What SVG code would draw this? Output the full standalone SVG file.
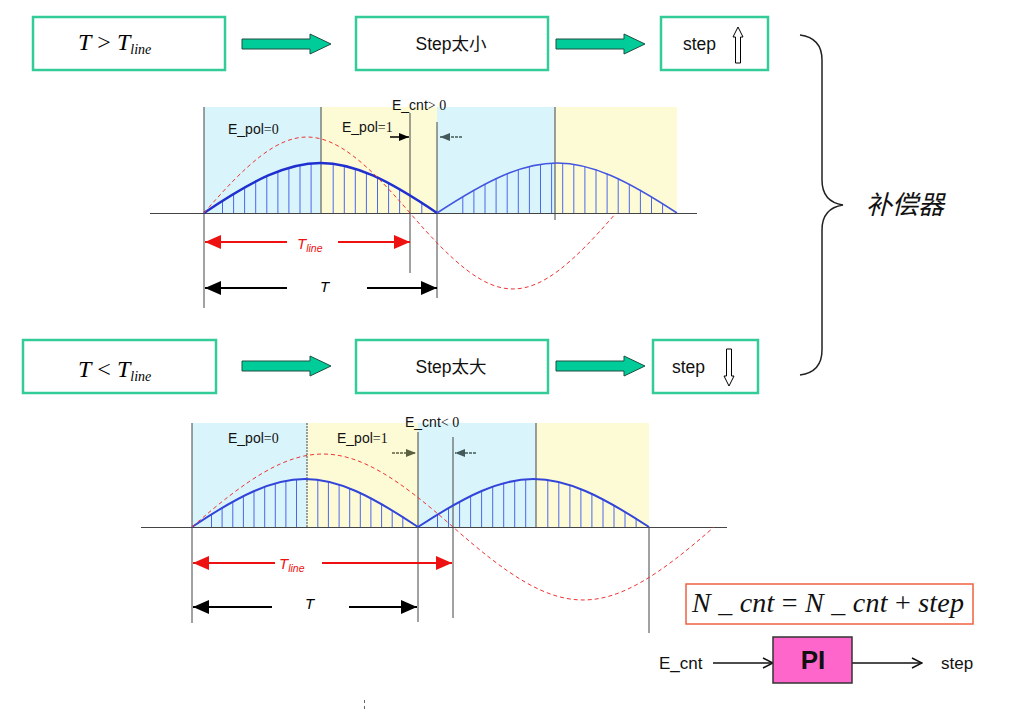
<svg xmlns="http://www.w3.org/2000/svg" width="1023" height="712" viewBox="0 0 1023 712">
<style>
.box{fill:#fff;stroke:#33cc99;stroke-width:2.5}
.garrow{fill:#00cc99;stroke:#1f4f40;stroke-width:1}
.sans{font-family:"Liberation Sans",Arial,sans-serif;fill:#111}
.serif{font-family:"Liberation Serif","Times New Roman",serif}
.mi{font-family:"Liberation Serif","Times New Roman",serif;font-style:italic}
.cyan{fill:#d9f5fb}
.yel{fill:#fdfbd6}
.vl{stroke:#444;stroke-width:1;fill:none}
.axis{stroke:#444;stroke-width:1}
.hatch{stroke:#4a66ee;stroke-width:1}
.sine{fill:none;stroke:#ee3333;stroke-width:1;stroke-dasharray:4 3}
.red{stroke:#ee1111;stroke-width:2}
.blk{stroke:#000;stroke-width:2}
.lbl{font-family:"Liberation Sans",Arial,sans-serif;font-style:italic;font-size:15px}
</style>
<defs>
<marker id="rh" viewBox="0 0 16 14" refX="16" refY="7" markerWidth="16" markerHeight="14" markerUnits="userSpaceOnUse" orient="auto-start-reverse"><path d="M0,0 L16,7 L0,14 Z" fill="#ee1111"/></marker>
<marker id="bh" viewBox="0 0 16 14" refX="16" refY="7" markerWidth="16" markerHeight="14" markerUnits="userSpaceOnUse" orient="auto-start-reverse"><path d="M0,0 L16,7 L0,14 Z" fill="#000"/></marker>
<marker id="sh" viewBox="0 0 10 8" refX="10" refY="4" markerWidth="10" markerHeight="8" markerUnits="userSpaceOnUse" orient="auto"><path d="M0,0 L10,4 L0,8 Z" fill="#000"/></marker>
<marker id="th" viewBox="0 0 10 8" refX="10" refY="4" markerWidth="10" markerHeight="8" markerUnits="userSpaceOnUse" orient="auto"><path d="M0,0 L10,4 L0,8 Z" fill="#445a5a"/></marker>
<marker id="oh" viewBox="0 0 10 8" refX="10" refY="4" markerWidth="10" markerHeight="8" markerUnits="userSpaceOnUse" orient="auto"><path d="M0,0 L10,4 L0,8 Z" fill="#5a6040"/></marker>
<marker id="ch" viewBox="0 0 12 12" refX="11" refY="6" markerWidth="12" markerHeight="12" markerUnits="userSpaceOnUse" orient="auto"><path d="M1,1 L11,6 L1,11" fill="none" stroke="#111" stroke-width="1.5"/></marker>
</defs>
<rect width="1023" height="712" fill="#fff"/>

<!-- Row 1 nodes -->
<g id="cond1">
<rect class="box" x="33" y="17" width="192" height="53"/>
<text x="78" y="50" font-size="24"><tspan class="mi">T</tspan><tspan class="serif"> &gt; </tspan><tspan class="mi">T</tspan><tspan class="mi" font-size="14" dy="4">line</tspan></text>
</g>
<g id="stepsmall">
<rect class="box" x="356" y="17" width="192" height="53"/>
<text class="sans" x="451" y="50" font-size="17.5" text-anchor="middle">Step<tspan font-family="'Noto Sans CJK SC',sans-serif">太小</tspan></text>
</g>
<g id="stepup">
<rect class="box" x="661" y="17" width="107" height="53"/>
<text class="sans" x="683" y="50" font-size="17.5">step</text>
<polygon points="738,27 743,37 740.5,37 740.5,63 735.5,63 735.5,37 733,37" fill="#fff" stroke="#000" stroke-width="1"/>
</g>

<!-- Row 2 nodes -->
<g id="cond2">
<rect class="box" x="23" y="340" width="193" height="53"/>
<text x="78" y="377" font-size="24"><tspan class="mi">T</tspan><tspan class="serif"> &lt; </tspan><tspan class="mi">T</tspan><tspan class="mi" font-size="14" dy="4">line</tspan></text>
</g>
<g id="stepbig">
<rect class="box" x="356" y="340" width="192" height="53"/>
<text class="sans" x="451" y="373" font-size="17.5" text-anchor="middle">Step<tspan font-family="'Noto Sans CJK SC',sans-serif">太大</tspan></text>
</g>
<g id="stepdown">
<rect class="box" x="653" y="340" width="105" height="53"/>
<text class="sans" x="672" y="373" font-size="17.5">step</text>
<polygon points="729,386 734,376 731.5,376 731.5,349 726.5,349 726.5,376 724,376" fill="#fff" stroke="#000" stroke-width="1"/>
</g>

<!-- Connectors -->
<g id="connectors">
<path class="garrow" d="M242,39 H310 V34 L331,44 L310,54 V49 H242 Z"/>
<path class="garrow" d="M556,39 H624 V34 L645,44 L624,54 V49 H556 Z"/>
<path class="garrow" d="M242,361 H310 V356 L331,366 L310,376 V371 H242 Z"/>
<path class="garrow" d="M556,361 H624 V356 L645,366 L624,376 V371 H556 Z"/>
<line x1="713" y1="663" x2="773" y2="663" stroke="#111" stroke-width="1.5" marker-end="url(#ch)"/>
<line x1="852" y1="663" x2="922" y2="663" stroke="#111" stroke-width="1.5" marker-end="url(#ch)"/>
</g>

<!-- Brace and label -->
<g id="compensator">
<path d="M800,35 C815,37 822,45 822,60 V180 C822,195 830,203 843,205 C830,207 822,215 822,230 V350 C822,365 815,373 800,375" fill="none" stroke="#222" stroke-width="1.5"/>
<text x="866" y="214" font-size="26" font-style="italic" font-family="'Noto Sans CJK SC','Noto Sans CJK JP',sans-serif" fill="#111">补偿器</text>
</g>

<!-- Waveform 1 -->
<g id="wave1">
<rect class="cyan" x="204" y="107" width="117" height="106"/>
<rect class="yel" x="321" y="107" width="116" height="106"/>
<rect class="cyan" x="437" y="107" width="118" height="106"/>
<rect class="yel" x="555" y="107" width="122" height="106"/>
<line class="axis" x1="150" y1="213.5" x2="697" y2="213.5"/>
<g class="hatch">
<line x1="222.5" y1="213" x2="222.5" y2="200.7"/><line x1="233.6" y1="213" x2="233.6" y2="193.6"/><line x1="244.6" y1="213" x2="244.6" y2="187"/><line x1="255.7" y1="213" x2="255.7" y2="180.9"/><line x1="266.8" y1="213" x2="266.8" y2="175.6"/><line x1="277.9" y1="213" x2="277.9" y2="171"/><line x1="288.9" y1="213" x2="288.9" y2="167.5"/><line x1="300" y1="213" x2="300" y2="164.9"/><line x1="311.1" y1="213" x2="311.1" y2="163.4"/><line x1="333.2" y1="213" x2="333.2" y2="163.7"/><line x1="344.3" y1="213" x2="344.3" y2="165.6"/><line x1="355.3" y1="213" x2="355.3" y2="168.4"/><line x1="366.4" y1="213" x2="366.4" y2="172.3"/><line x1="377.5" y1="213" x2="377.5" y2="177.1"/><line x1="388.6" y1="213" x2="388.6" y2="182.6"/><line x1="399.6" y1="213" x2="399.6" y2="188.8"/><line x1="421.8" y1="213" x2="421.8" y2="202.8"/>
<line x1="462.8" y1="213" x2="462.8" y2="196.4"/><line x1="473.9" y1="213" x2="473.9" y2="189.8"/><line x1="485" y1="213" x2="485" y2="183.6"/><line x1="496.1" y1="213" x2="496.1" y2="178.1"/><line x1="507.2" y1="213" x2="507.2" y2="173.3"/><line x1="518.3" y1="213" x2="518.3" y2="169.3"/><line x1="529.4" y1="213" x2="529.4" y2="166.2"/><line x1="540.5" y1="213" x2="540.5" y2="164.1"/><line x1="551.6" y1="213" x2="551.6" y2="163.1"/><line x1="562.7" y1="213" x2="562.7" y2="163.1"/><line x1="573.8" y1="213" x2="573.8" y2="164.2"/><line x1="584.9" y1="213" x2="584.9" y2="166.3"/><line x1="596" y1="213" x2="596" y2="169.4"/><line x1="607.1" y1="213" x2="607.1" y2="173.4"/><line x1="618.2" y1="213" x2="618.2" y2="178.2"/><line x1="629.3" y1="213" x2="629.3" y2="183.8"/><line x1="640.4" y1="213" x2="640.4" y2="189.9"/><line x1="651.5" y1="213" x2="651.5" y2="196.6"/><line x1="662.6" y1="213" x2="662.6" y2="203.6"/>
</g>
<line class="vl" x1="204" y1="107" x2="204" y2="308"/>
<line class="vl" x1="321" y1="107" x2="321" y2="213"/>
<line class="vl" x1="410" y1="113" x2="410" y2="273"/>
<line class="vl" x1="437" y1="122" x2="437" y2="298"/>
<line class="vl" x1="555" y1="107" x2="555" y2="220"/>
<path d="M204,213 C302.9,146.3 338.1,146.3 437,213" fill="none" stroke="#1f2fd0" stroke-width="2.5"/>
<path d="M437,213 C538.9,146.3 575.1,146.3 677,213" fill="none" stroke="#4455e0" stroke-width="1.6"/>
<path class="sine" d="M204,213 C291.4,111.7 322.6,111.7 410,213 S528.6,314.3 616,213"/>
<text class="sans" x="228" y="134" font-size="14">E_pol<tspan class="serif">=0</tspan></text>
<text class="sans" x="342" y="132" font-size="14">E_pol<tspan class="serif">=1</tspan></text>
<text class="sans" x="392" y="110" font-size="14">E_cnt<tspan class="serif">&gt; 0</tspan></text>
<line x1="390" y1="137" x2="409" y2="137" stroke="#000" stroke-width="1.5" marker-end="url(#sh)"/>
<line x1="462" y1="137" x2="440" y2="137" stroke="#445a5a" stroke-width="1.5" stroke-dasharray="3 1" marker-end="url(#th)"/>
<line class="red" x1="205" y1="242" x2="287" y2="242" marker-start="url(#rh)"/>
<line class="red" x1="338" y1="242" x2="410" y2="242" marker-end="url(#rh)"/>
<text class="lbl" x="297" y="249" fill="#ee1111">T<tspan font-size="10.5" dy="3">line</tspan></text>
<line class="blk" x1="205" y1="288" x2="287" y2="288" marker-start="url(#bh)"/>
<line class="blk" x1="367" y1="288" x2="437" y2="288" marker-end="url(#bh)"/>
<text class="lbl" x="320" y="292" fill="#000">T</text>
</g>

<!-- Waveform 2 -->
<g id="wave2">
<rect class="cyan" x="192" y="423" width="115" height="104"/>
<rect class="yel" x="307" y="423" width="111" height="104"/>
<rect class="cyan" x="418" y="423" width="118" height="104"/>
<rect class="yel" x="536" y="423" width="113" height="104"/>
<line class="axis" x1="141" y1="527.5" x2="727" y2="527.5"/>
<g class="hatch">
<line x1="211.5" y1="527" x2="211.5" y2="514.1"/><line x1="222.1" y1="527" x2="222.1" y2="507.5"/><line x1="232.8" y1="527" x2="232.8" y2="501.2"/><line x1="243.4" y1="527" x2="243.4" y2="495.5"/><line x1="254" y1="527" x2="254" y2="490.6"/><line x1="264.7" y1="527" x2="264.7" y2="486.3"/><line x1="275.3" y1="527" x2="275.3" y2="483"/><line x1="285.9" y1="527" x2="285.9" y2="480.7"/><line x1="296.5" y1="527" x2="296.5" y2="479.3"/><line x1="317.8" y1="527" x2="317.8" y2="479.8"/><line x1="328.4" y1="527" x2="328.4" y2="481.5"/><line x1="339.1" y1="527" x2="339.1" y2="484.3"/><line x1="349.7" y1="527" x2="349.7" y2="488"/><line x1="360.3" y1="527" x2="360.3" y2="492.5"/><line x1="370.9" y1="527" x2="370.9" y2="497.8"/><line x1="381.6" y1="527" x2="381.6" y2="503.7"/><line x1="392.2" y1="527" x2="392.2" y2="510.1"/><line x1="402.8" y1="527" x2="402.8" y2="516.9"/>
<line x1="437.5" y1="527" x2="437.5" y2="514.4"/><line x1="448.5" y1="527" x2="448.5" y2="507.7"/><line x1="459.6" y1="527" x2="459.6" y2="501.3"/><line x1="470.6" y1="527" x2="470.6" y2="495.5"/><line x1="481.6" y1="527" x2="481.6" y2="490.5"/><line x1="492.7" y1="527" x2="492.7" y2="486.2"/><line x1="503.7" y1="527" x2="503.7" y2="482.9"/><line x1="514.7" y1="527" x2="514.7" y2="480.6"/><line x1="525.7" y1="527" x2="525.7" y2="479.3"/><line x1="547.8" y1="527" x2="547.8" y2="479.9"/><line x1="558.8" y1="527" x2="558.8" y2="481.8"/><line x1="569.9" y1="527" x2="569.9" y2="484.8"/><line x1="580.9" y1="527" x2="580.9" y2="488.6"/><line x1="591.9" y1="527" x2="591.9" y2="493.3"/><line x1="603" y1="527" x2="603" y2="498.9"/><line x1="614" y1="527" x2="614" y2="505"/><line x1="625" y1="527" x2="625" y2="511.5"/><line x1="636.1" y1="527" x2="636.1" y2="518.6"/>
</g>
<line class="vl" x1="192" y1="423" x2="192" y2="623"/>
<line class="vl" x1="307" y1="423" x2="307" y2="527" stroke-dasharray="2 1"/>
<line class="vl" x1="418" y1="432" x2="418" y2="622"/>
<line class="vl" x1="453" y1="437" x2="453" y2="618"/>
<line class="vl" x1="536" y1="423" x2="536" y2="527" stroke="#333"/>
<line class="vl" x1="649" y1="527" x2="649" y2="633"/>
<path d="M192,527 C287.9,463 322.1,463 418,527" fill="none" stroke="#3344d8" stroke-width="2"/>
<path d="M418,527 C516,463 551,463 649,527" fill="none" stroke="#3344d8" stroke-width="2"/>
<path class="sine" d="M192,527 C302.8,429.7 343.2,429.7 453,527 S603.2,624.3 714,527"/>
<text class="sans" x="228" y="443" font-size="14">E_pol<tspan class="serif">=0</tspan></text>
<text class="sans" x="337" y="443" font-size="14">E_pol<tspan class="serif">=1</tspan></text>
<text class="sans" x="405" y="427" font-size="14">E_cnt<tspan class="serif">&lt; 0</tspan></text>
<line x1="392" y1="453" x2="416" y2="453" stroke="#5a6040" stroke-width="1.5" stroke-dasharray="3 1" marker-end="url(#oh)"/>
<line x1="476" y1="453" x2="455" y2="453" stroke="#445a5a" stroke-width="1.5" stroke-dasharray="3 1" marker-end="url(#th)"/>
<line class="red" x1="193" y1="563" x2="275" y2="563" marker-start="url(#rh)"/>
<line class="red" x1="322" y1="563" x2="452" y2="563" marker-end="url(#rh)"/>
<text class="lbl" x="279" y="569" fill="#ee1111">T<tspan font-size="10.5" dy="3">line</tspan></text>
<line class="blk" x1="193" y1="607" x2="272" y2="607" marker-start="url(#bh)"/>
<line class="blk" x1="349" y1="607" x2="417" y2="607" marker-end="url(#bh)"/>
<text class="lbl" x="305" y="609" fill="#000">T</text>
</g>

<!-- Formula -->
<g id="formula">
<rect x="686" y="584" width="287" height="40" fill="#fff" stroke="#f06040" stroke-width="1.5"/>
<text x="692" y="612" font-size="28" fill="#111" textLength="272" lengthAdjust="spacing"><tspan class="mi">N _ cnt </tspan><tspan class="serif">=</tspan><tspan class="mi"> N _ cnt </tspan><tspan class="serif">+</tspan><tspan class="mi"> step</tspan></text>
</g>

<!-- PI controller -->
<g id="pi">
<rect x="773" y="637" width="79" height="46" fill="#ff66cc" stroke="#333" stroke-width="1.5"/>
<text class="sans" x="813" y="669" font-size="26" font-weight="bold" text-anchor="middle">PI</text>
</g>
<g id="ecnt-label"><text class="sans" x="659" y="669" font-size="17">E_cnt</text></g>
<g id="step-label"><text class="sans" x="941" y="669" font-size="17">step</text></g>
<line x1="364.5" y1="700" x2="364.5" y2="712" stroke="#666" stroke-width="1" stroke-dasharray="3 3"/>
</svg>
